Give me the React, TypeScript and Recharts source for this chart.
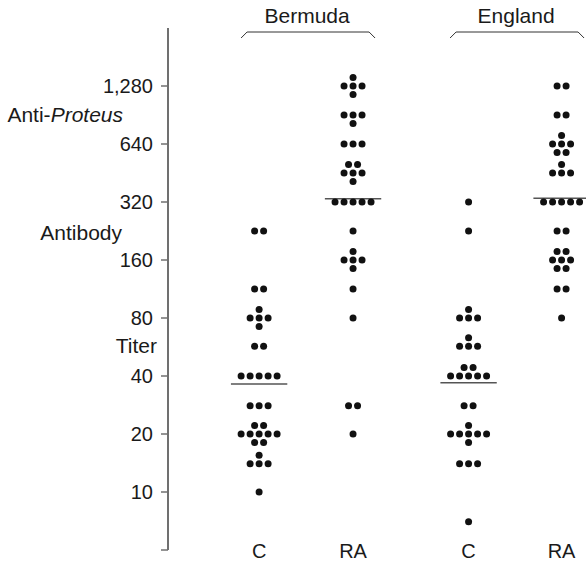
import { ReferenceLine, Scatter, ScatterChart, XAxis, YAxis } from "recharts";

// titer (reciprocal dilution) -> number of subjects
const bermudaC: [number, number][] = [
  [10, 1], [14, 4], [20, 9], [28, 3], [40, 5], [57, 2], [80, 5], [113, 2], [226, 2],
];
const bermudaRA: [number, number][] = [
  [20, 1], [28, 2], [80, 1], [113, 1], [160, 5], [226, 1], [320, 5], [453, 6], [640, 3], [905, 4], [1280, 5],
];
const englandC: [number, number][] = [
  [7, 1], [14, 3], [20, 7], [28, 2], [40, 7], [57, 4], [80, 4], [226, 1], [320, 1],
];
const englandRA: [number, number][] = [
  [80, 1], [113, 2], [160, 7], [226, 2], [320, 5], [453, 4], [640, 6], [905, 2], [1280, 2],
];

const groupLabels = ["C", "RA", "C", "RA"];
const regions = ["Bermuda", "England"];
const yTicks = [5, 10, 20, 40, 80, 160, 320, 640, 1280];
const Y_MIN = 5;
const Y_MAX = 2560;

// layout: where the groups sit on the x axis, and how crowded titers are piled (rows, top to bottom)
const X_POS = [1, 2, 3.23, 4.22];
const PILES: Record<number, number[]>[] = [
  { 14: [1, 3], 20: [2, 5, 2], 80: [1, 3, 1] },
  { 160: [1, 3, 1], 453: [2, 3, 1], 905: [3, 1], 1280: [1, 3, 1] },
  { 20: [1, 5, 1], 40: [2, 5], 57: [1, 3], 80: [1, 3] },
  { 160: [2, 3, 2], 453: [1, 3], 640: [1, 3, 2] },
];

const DOT_GAP = 9;
const ROW_GAP = 8.5;
const FONT = "'Liberation Sans', Arial, Helvetica, sans-serif";

const series = [bermudaC, bermudaRA, englandC, englandRA];

type Pt = { x: number; y: number; dx: number; dy: number };

function buildPoints(counts: [number, number][], piles: Record<number, number[]>, x: number) {
  const pts: Pt[] = [];
  for (const [titer, n] of counts) {
    const rows = piles[titer] ?? [n];
    const main = rows.indexOf(Math.max(...rows));
    rows.forEach((k, r) => {
      for (let i = 0; i < k; i++) pts.push({ x, y: titer, dx: i - (k - 1) / 2, dy: r - main });
    });
  }
  return pts;
}

function geoMean(counts: [number, number][]) {
  let s = 0;
  let n = 0;
  for (const [t, c] of counts) {
    s += c * Math.log2(t);
    n += c;
  }
  return Math.pow(2, s / n);
}

function Dot(props: any) {
  const p = props.payload ?? props;
  if (props.cx == null || props.cy == null) return null;
  return <circle cx={props.cx + p.dx * DOT_GAP} cy={props.cy + p.dy * ROW_GAP} r={3.5} fill="#111" />;
}

function GroupTick(props: any) {
  const { x, y, index } = props;
  return (
    <text x={x} y={y + 7.5} textAnchor="middle" fontSize={20} fontFamily={FONT} fill="#1a1a1a">
      {groupLabels[index]}
    </text>
  );
}

// bracket + region name drawn above the two groups of a region
function Bracket(props: any, name: string) {
  const { x1, x2, y1 } = props;
  const c = (x1 + x2) / 2 + 2;
  const y = y1;
  return (
    <g>
      <text x={c - 1} y={y - 5.5} textAnchor="middle" fontSize={21} fontFamily={FONT} fill="#1a1a1a">
        {name}
      </text>
      <path
        d={`M${c - 67},${y + 10} L${c - 61},${y + 4} L${c + 61},${y + 4} L${c + 67},${y + 10}`}
        fill="none"
        stroke="#333"
        strokeWidth={1}
      />
    </g>
  );
}

function YTitle() {
  return (
    <g fontFamily={FONT} fontSize={21} fill="#1a1a1a" textAnchor="end">
      <text x={123} y={122}>
        Anti-<tspan fontStyle="italic">Proteus</tspan>
      </text>
      <text x={122} y={240}>Antibody</text>
      <text x={157} y={353}>Titer</text>
    </g>
  );
}

export default function App() {
  return (
    <div style={{ position: "absolute", left: 0, top: 0, background: "#fff" }}>
      <ScatterChart width={586} height={569} margin={{ top: 28, right: 0, bottom: 0, left: 0 }}>
        <XAxis
          type="number"
          dataKey="x"
          domain={[0.03, 4.48]}
          allowDataOverflow
          ticks={X_POS}
          interval={0}
          height={19}
          axisLine={false}
          tickLine={false}
          tickSize={0}
          tickMargin={0}
          tick={<GroupTick />}
        />
        <YAxis
          type="number"
          dataKey="y"
          scale="log"
          domain={[Y_MIN, Y_MAX]}
          allowDataOverflow
          ticks={yTicks}
          interval={0}
          width={168}
          tickSize={7}
          tickMargin={8}
          tickFormatter={(v: number) => (v === 5 ? "" : v.toLocaleString("en-US"))}
          axisLine={{ stroke: "#707070", strokeWidth: 2 }}
          tickLine={{ stroke: "#707070", strokeWidth: 1.5 }}
          tick={{ fill: "#1a1a1a", fontSize: 20, fontFamily: FONT }}
          label={() => <YTitle />}
        />
        {series.map((s, i) => (
          <Scatter
            key={i}
            data={buildPoints(s, PILES[i], X_POS[i])}
            shape={<Dot />}
            isAnimationActive={false}
          />
        ))}
        {series.map((s, i) => {
          const gm = geoMean(s);
          return (
            <ReferenceLine
              key={"m" + i}
              segment={[
                { x: X_POS[i] - 0.3, y: gm },
                { x: X_POS[i] + 0.3, y: gm },
              ]}
              ifOverflow="visible"
              stroke="#555"
              strokeWidth={1.5}
            />
          );
        })}
        {regions.map((name, r) => (
          <ReferenceLine
            key={"r" + r}
            segment={[
              { x: X_POS[2 * r], y: Y_MAX },
              { x: X_POS[2 * r + 1], y: Y_MAX },
            ]}
            ifOverflow="visible"
            shape={(p: any) => Bracket(p, name)}
          />
        ))}
      </ScatterChart>
    </div>
  );
}
